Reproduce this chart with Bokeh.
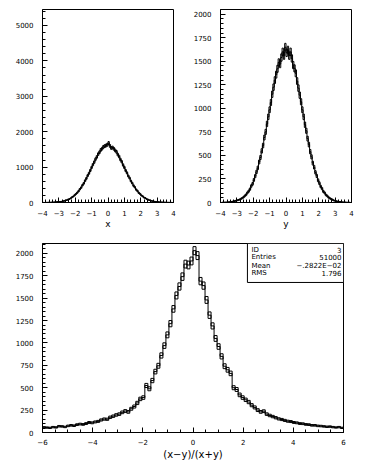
import numpy as np
from bokeh.plotting import figure
from bokeh.layouts import column, row
from bokeh.models import SingleIntervalTicker, BoxAnnotation, Label
from bokeh.embed import file_html
from bokeh.resources import INLINE

# ---- data (counts per bin) ----
x_range_lo, x_range_hi, x_nbins = -4.0, 4.0, 100
x_counts = [
    1, 0, 2, 1, 3, 2, 4, 6, 7, 10,
    13, 16, 19, 24, 27, 37, 44, 57, 66, 85,
    98, 118, 148, 170, 205, 240, 275, 318, 375, 420,
    486, 540, 615, 680, 760, 826, 905, 990, 1070, 1140,
    1225, 1288, 1365, 1418, 1485, 1520, 1570, 1592, 1610, 1632,
    1680, 1598, 1540, 1552, 1515, 1470, 1430, 1352, 1298, 1214,
    1150, 1060, 990, 902, 836, 750, 688, 606, 548, 478,
    430, 365, 326, 272, 242, 200, 175, 140, 125, 98,
    85, 66, 56, 43, 37, 28, 24, 17, 15, 10,
    9, 6, 5, 4, 3, 2, 2, 1, 1, 0,
]

y_range_lo, y_range_hi, y_nbins = -4.0, 4.0, 100
y_counts = [
    0, 1, 1, 2, 2, 3, 5, 5, 8, 11,
    14, 18, 22, 26, 31, 38, 46, 55, 70, 82,
    102, 120, 142, 175, 198, 240, 280, 325, 368, 430,
    478, 548, 605, 690, 750, 835, 910, 985, 1062, 1150,
    1225, 1300, 1358, 1420, 1488, 1470, 1540, 1600, 1560, 1650,
    1590, 1620, 1560, 1600, 1530, 1460, 1425, 1372, 1290, 1215,
    1140, 1070, 985, 910, 826, 762, 678, 615, 540, 485,
    418, 375, 320, 282, 236, 205, 170, 148, 118, 102,
    80, 70, 54, 44, 37, 30, 22, 18, 14, 11,
    8, 6, 5, 3, 3, 2, 1, 1, 1, 0,
]

r_range_lo, r_range_hi, r_nbins = -6.0, 6.0, 100
r_counts = [
    58, 55, 52, 60, 57, 70, 68, 62, 74, 80,
    76, 88, 94, 90, 100, 112, 108, 118, 124, 140,
    150, 148, 170, 182, 196, 205, 225, 240, 230, 265,
    290, 330, 375, 390, 525, 488, 580, 680, 745, 860,
    970, 1090, 1215, 1380, 1530, 1630, 1740, 1880, 1870, 1915,
    2030, 1975, 1690, 1640, 1480, 1310, 1190, 1050, 960, 850,
    740, 700, 660, 500, 480, 420, 390, 365, 340, 305,
    280, 250, 230, 238, 205, 190, 178, 165, 152, 145,
    135, 126, 122, 112, 108, 100, 98, 90, 88, 80,
    80, 74, 72, 68, 64, 66, 60, 56, 60, 52,
]

stats_labels = ["ID", "Entries", "Mean", "RMS"]
stats_values = ["3", "51000", "\u2212.2822E\u221202", "1.796"]

FONT = "DejaVu Sans"


def minus_overrides(lo, hi, step):
    out = {}
    v = lo
    while v <= hi + 1e-9:
        iv = int(round(v))
        out[iv] = ("\u2212" + str(-iv)) if iv < 0 else str(iv)
        v += step
    return out


def style(p, xint, xminor, yint, yminor, standoff_x, standoff_y):
    p.xaxis.ticker = SingleIntervalTicker(interval=xint, num_minor_ticks=xminor)
    p.yaxis.ticker = SingleIntervalTicker(interval=yint, num_minor_ticks=yminor)
    p.xgrid.visible = False
    p.ygrid.visible = False
    p.outline_line_color = "black"
    p.outline_line_width = 1
    p.outline_line_alpha = 1
    for ax in (p.xaxis[0], p.yaxis[0]):
        ax.axis_line_color = "black"
        ax.major_tick_line_color = "black"
        ax.minor_tick_line_color = "black"
        ax.major_tick_in = 5
        ax.major_tick_out = 0
        ax.minor_tick_in = 3
        ax.minor_tick_out = 0
        ax.major_label_text_font = FONT
        ax.major_label_text_font_size = "7px"
        ax.major_label_text_color = "black"
        ax.axis_label_text_font = FONT
        ax.axis_label_text_font_style = "normal"
        ax.axis_label_text_color = "black"
    p.xaxis.major_label_standoff = standoff_x
    p.yaxis.major_label_standoff = standoff_y
    p.background_fill_color = "white"
    p.border_fill_color = "white"


def draw_hist(p, lo, hi, nb, counts):
    edges = np.linspace(lo, hi, nb + 1)
    c = np.asarray(counts, dtype=float)
    err = np.sqrt(c)
    p.quad(left=edges[:-1], right=edges[1:], bottom=c - err, top=c + err,
           fill_color=None, line_color="black", line_width=1)
    p.step(x=edges, y=np.append(c, c[-1]), mode="after",
           line_color="black", line_width=1)


# ---- top-left: x ----
p1 = figure(frame_width=131, frame_height=193, x_range=(-4, 4), y_range=(0, 5450),
            output_backend="svg", toolbar_location=None,
            min_border_left=42, min_border_right=17, min_border_top=9, min_border_bottom=28)
style(p1, 1, 5, 1000, 5, 7, 9)
p1.xaxis.major_label_overrides = minus_overrides(-4, 4, 1)
p1.xaxis.axis_label = "x"
p1.xaxis.axis_label_text_font_size = "9px"
p1.xaxis.axis_label_standoff = 0
draw_hist(p1, x_range_lo, x_range_hi, x_nbins, x_counts)

# ---- top-right: y ----
p2 = figure(frame_width=131, frame_height=193, x_range=(-4, 4), y_range=(0, 2050),
            output_backend="svg", toolbar_location=None,
            min_border_left=22, min_border_right=30, min_border_top=9, min_border_bottom=28)
style(p2, 1, 5, 250, 5, 7, 9)
p2.xaxis.major_label_overrides = minus_overrides(-4, 4, 1)
p2.xaxis.axis_label = "y"
p2.xaxis.axis_label_text_font_size = "9px"
p2.xaxis.axis_label_standoff = 0
draw_hist(p2, y_range_lo, y_range_hi, y_nbins, y_counts)

# ---- bottom: (x-y)/(x+y) ----
p3 = figure(frame_width=301, frame_height=189, x_range=(-6, 6), y_range=(0, 2110),
            output_backend="svg", toolbar_location=None,
            min_border_left=42, min_border_right=30, min_border_top=12, min_border_bottom=26)
style(p3, 2, 4, 250, 5, 6, 9)
p3.xaxis.major_label_overrides = minus_overrides(-6, 6, 2)
p3.xaxis.axis_label = "(x\u2212y)/(x+y)"
p3.xaxis.axis_label_text_font_size = "10px"
p3.xaxis.axis_label_standoff = 1
draw_hist(p3, r_range_lo, r_range_hi, r_nbins, r_counts)

# statistics box
p3.add_layout(BoxAnnotation(left=2.17, right=6, bottom=1675, top=2110,
                            fill_color="white", fill_alpha=1,
                            line_color="black", line_width=1, line_alpha=1))
row_y = [2043, 1954, 1864, 1786]
for lab, val, yy in zip(stats_labels, stats_values, row_y):
    p3.add_layout(Label(x=2.33, y=yy, text=lab, text_font=FONT, text_font_size="7px",
                        text_baseline="middle", text_align="left", text_color="black"))
    p3.add_layout(Label(x=5.92, y=yy, text=val, text_font=FONT, text_font_size="7px",
                        text_baseline="middle", text_align="right", text_color="black"))

layout = column(row(p1, p2), p3)
open("out.html", "w").write(file_html(layout, INLINE))
